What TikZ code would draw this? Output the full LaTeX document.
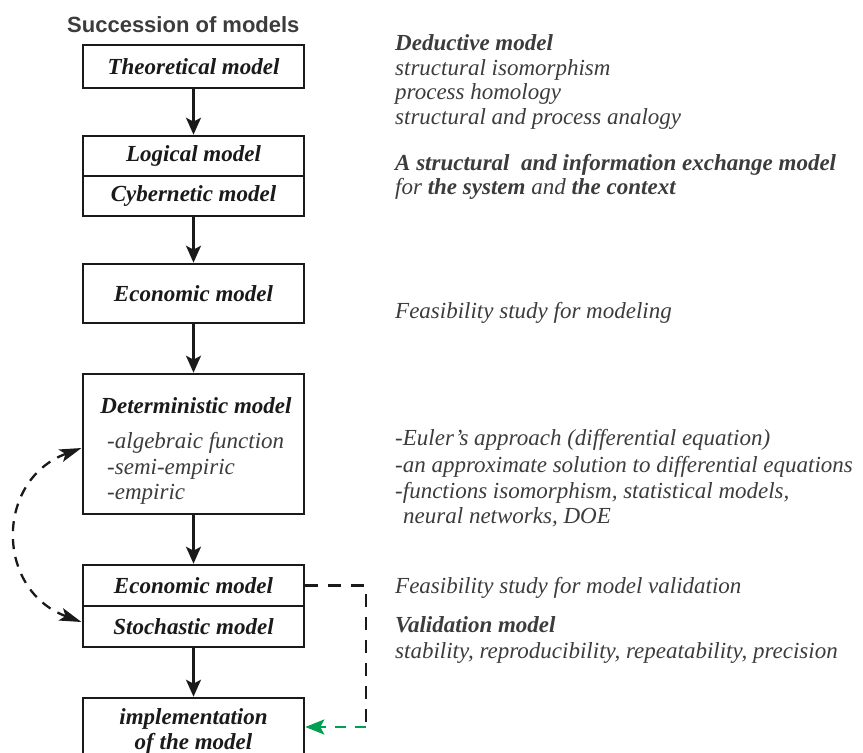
\documentclass[tikz,border=0pt]{standalone}
\usepackage{fontspec}
\setmainfont{Liberation Serif}
\setsansfont{Liberation Sans}
\usetikzlibrary{arrows.meta}
\definecolor{txt}{HTML}{3C3C3C}
\definecolor{ink}{HTML}{1A1A1A}
\definecolor{grn}{RGB}{0,160,80}
\begin{document}
\begin{tikzpicture}[x=1pt,y=-1pt,
  box/.style={draw=ink,line width=2.6pt,minimum width=221pt,inner sep=0pt,
    font=\fontsize{23}{25}\selectfont\bfseries\itshape,text=ink},
  arr/.style={draw=ink,line width=2.3pt,-{Stealth[length=17pt,width=15pt,inset=4pt]}},
  rt/.style={anchor=base west,inner sep=0pt,font=\fontsize{23}{25}\selectfont\itshape,text=txt},
  rtb/.style={rt,font=\fontsize{23}{25}\selectfont\bfseries\itshape},
  dcurve/.style={draw=ink,line width=2.3pt,dash pattern=on 10pt off 8pt,
    {Stealth[length=22pt,width=13pt,inset=5pt]}-{Stealth[length=22pt,width=13pt,inset=5pt]}},
  dline/.style={draw=ink,line width=2.2pt,dash pattern=on 13pt off 10pt},
  gline/.style={draw=grn,line width=2.2pt,dash pattern=on 11pt off 9pt,
    -{Stealth[length=19pt,width=15pt,inset=4pt]}}
]
\useasboundingbox (0,0) rectangle (863,753);

\node[anchor=base west,inner sep=0pt,font=\fontsize{22}{24}\selectfont\sffamily\bfseries,text=txt] (title) at (67,32) {Succession of models};

% boxes
\node[box,minimum height=43pt] (theo) at (193.5,66.5) {Theoretical model};
\node[box,minimum height=40pt] (logi) at (193.5,156) {Logical model};
\node[box,minimum height=40pt] (cyb) at (193.5,196) {Cybernetic model};
\node[box,minimum height=59pt] (eco1) at (193.5,293.5) {Economic model};
\node[box,minimum height=140pt] (det) at (193.5,444) {};
\node[anchor=base,inner sep=0pt,font=\fontsize{23}{25}\selectfont\bfseries\itshape,text=ink] (dett) at (196,413) {Deterministic model};
\node[rt] (d1) at (107,448) {-algebraic function};
\node[rt] (d2) at (107,474) {-semi-empiric};
\node[rt] (d3) at (107,499) {-empiric};
\node[box,minimum height=41pt] (eco2) at (193.5,585.5) {Economic model};
\node[box,minimum height=41pt] (sto) at (193.5,626.5) {Stochastic model};
\node[box,minimum height=66pt,align=center] (impl) at (193.5,731) {implementation\\of the model};

% arrows
\draw[arr] (theo) -- (logi);
\draw[arr] (cyb) -- (eco1);
\draw[arr] (eco1) -- (det);
\draw[arr] (det) -- (eco2);
\draw[arr] (sto) -- (impl);

% dashed loop
\coordinate (dl) at (81.5,448);
\coordinate (sl) at (81.5,622);
\draw[dcurve] (dl) .. controls (-5,480) and (-5,590) .. (sl);

% feedback to implementation
\coordinate (cr) at (366,727);
\draw[dline] (eco2.east) -- (eco2.east -| cr) -- (cr);
\draw[gline] (cr) -- (impl.east |- cr);

% right texts
\node[rtb] (r1) at (395,50) {Deductive model};
\node[rt] (r2) at (395,75) {structural isomorphism};
\node[rt] (r3) at (395,99.5) {process homology};
\node[rt] (r4) at (395,124) {structural and process analogy};
\node[rtb] (r5) at (395,170) {A structural\ \ and information exchange model};
\node[rt] (r6) at (395,194.5) {for \textbf{the system} and \textbf{the context}};
\node[rt] (r7) at (395,318) {Feasibility study for modeling};
\node[rt] (r8) at (395,445) {-Euler’s approach (differential equation)};
\node[rt] (r9) at (395,472) {-an approximate solution to differential equations};
\node[rt] (r10) at (395,498) {-functions isomorphism, statistical models,};
\node[rt] (r11) at (403,523) {neural networks, DOE};
\node[rt] (r12) at (395,593) {Feasibility study for model validation};
\node[rtb] (r13) at (395,632) {Validation model};
\node[rt] (r14) at (395,658) {stability, reproducibility, repeatability, precision};
\end{tikzpicture}
\end{document}
